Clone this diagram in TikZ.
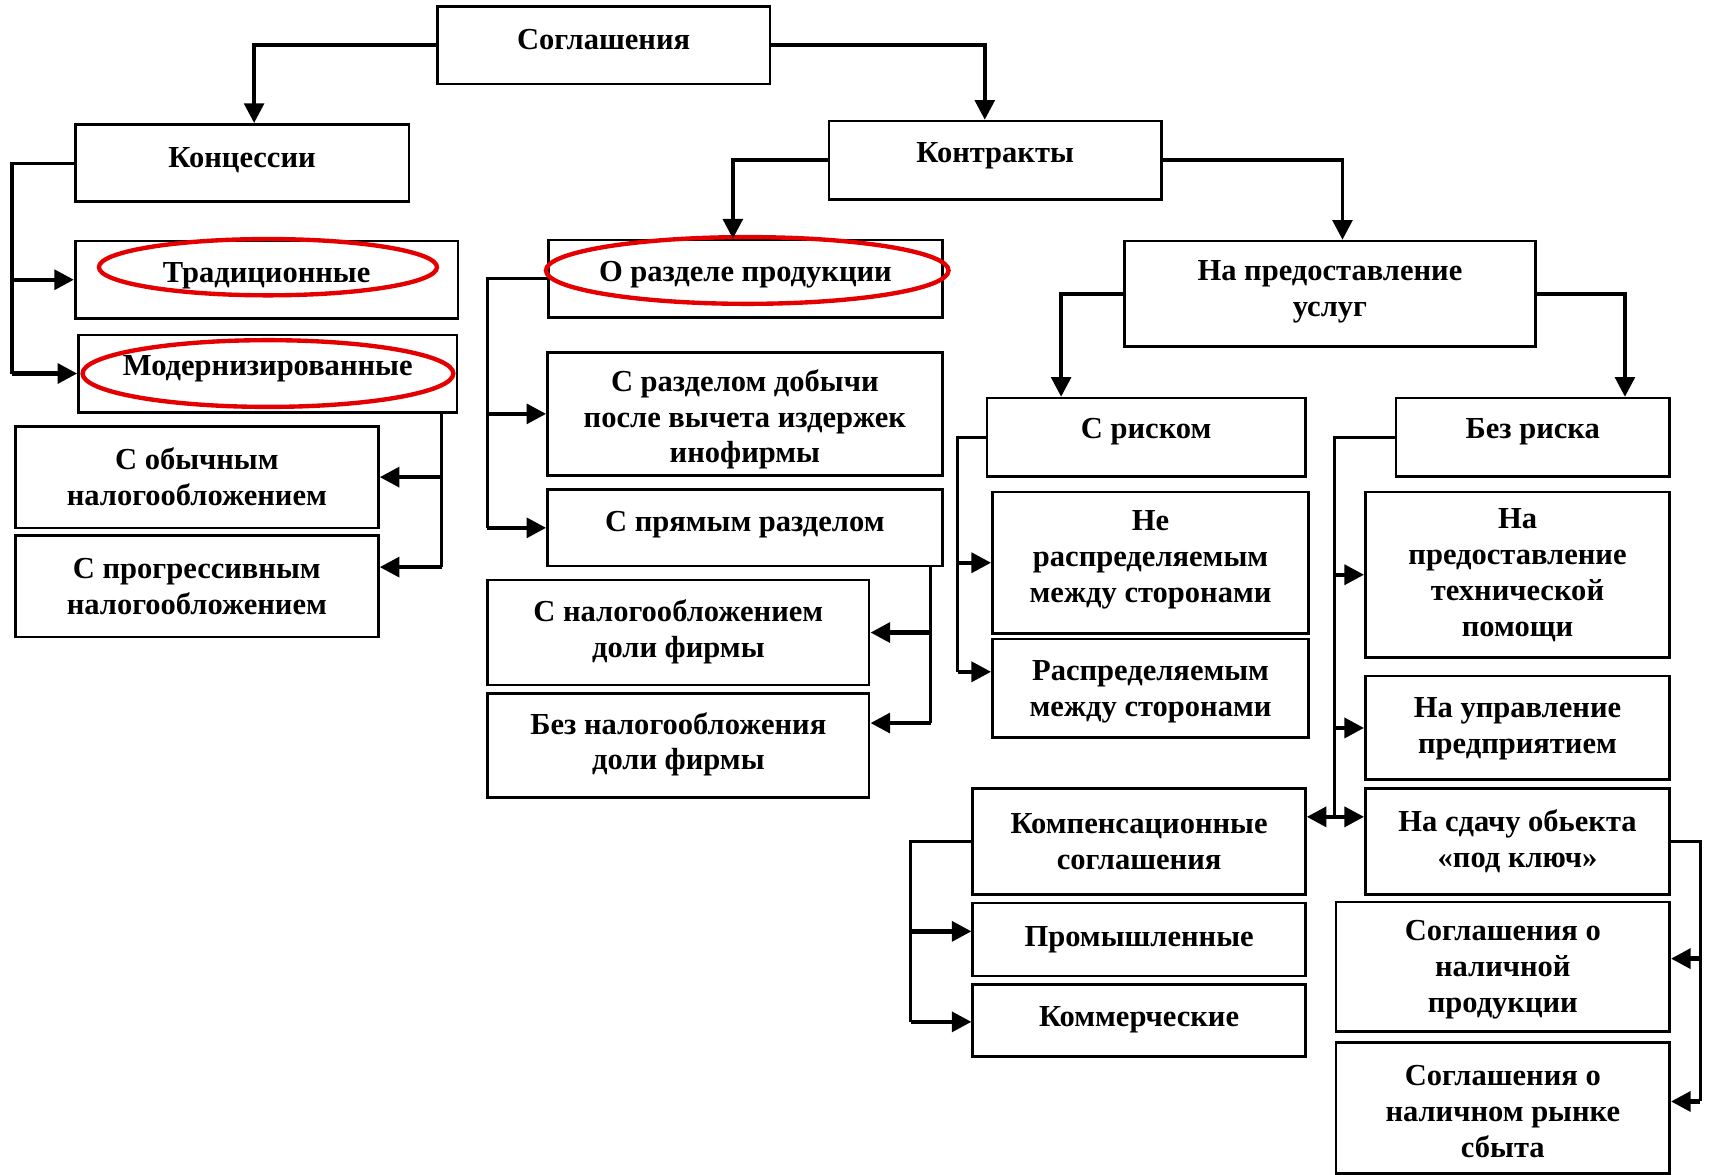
\documentclass[tikz,border=0pt]{standalone}
\usepackage{fontspec}
\setmainfont{Liberation Serif}
\usetikzlibrary{fit,arrows.meta}
\definecolor{hlred}{RGB}{228,0,0}
\tikzset{
  boxst/.style={draw=black, fill=white, line width=1.2pt, inner sep=0pt, rectangle},
  txt/.style={align=center, inner sep=0pt, font=\bfseries\fontsize{14pt}{16.5pt}\selectfont},
  ln/.style={draw=black, line width=1.4pt},
  varr/.style={draw=black, line width=1.7pt, -{Triangle[length=9pt,width=9pt]}},
  harr/.style={draw=black, line width=2pt, -{Triangle[length=9pt,width=9pt]}},
  hl/.style={draw=hlred, line width=2pt}
}
\newcommand\mybox[7]{%
  \node[boxst, fit={(#2,#3) (#4,#5)}] (#1) {};
  \node[txt, yshift=#6*0.5pt] (#1t) at (#1.center) {#7};
}
\begin{document}
\begin{tikzpicture}[x=0.5pt,y=-0.5pt]
\fill[white] (0,0) rectangle (1568,1077);
\useasboundingbox (0,0) rectangle (1568,1077);

\mybox{b1}{401}{6}{706}{77}{5}{Соглашения}
\mybox{b2}{69}{114}{375}{185}{3}{Концессии}
\mybox{b3}{760}{111}{1065}{183}{4}{Контракты}
\mybox{b4}{69}{221}{420}{292}{4}{Традиционные}
\mybox{b5}{72}{307}{419}{378}{4}{Модернизированные}
\mybox{b6}{14}{391}{347}{484}{0}{С обычным\\налогообложением}
\mybox{b7}{14}{491}{347}{584}{0}{С прогрессивным\\налогообложением}
\mybox{b8}{503}{220}{864}{291}{4}{О разделе продукции}
\mybox{b9}{502}{323}{864}{436}{-5}{С разделом добычи\\после вычета издержек\\инофирмы}
\mybox{b10}{502}{449}{864}{519}{3}{С прямым разделом}
\mybox{b11}{447}{532}{797}{628}{1}{С налогообложением\\доли фирмы}
\mybox{b12}{447}{636}{797}{731}{1}{Без налогообложения\\доли фирмы}
\mybox{b13}{1031}{221}{1408}{318}{2}{На предоставление\\услуг}
\mybox{b14}{905}{365}{1197}{437}{5}{С риском}
\mybox{b15}{1280}{365}{1531}{437}{5}{Без риска}
\mybox{b16}{910}{451}{1200}{581}{3}{Не\\распределяемым\\между сторонами}
\mybox{b17}{910}{586}{1200}{676}{-3}{Распределяемым\\между сторонами}
\mybox{b18}{1252}{451}{1531}{603}{0}{На\\предоставление\\технической\\помощи}
\mybox{b19}{1252}{620}{1531}{715}{-1}{На управление\\предприятием}
\mybox{b20}{892}{723}{1197}{820}{0}{Компенсационные\\соглашения}
\mybox{b21}{1252}{723}{1531}{820}{0}{На сдачу обьекта\\«под ключ»}
\mybox{b22}{892}{828}{1197}{895}{0}{Промышленные}
\mybox{b23}{892}{903}{1197}{969}{1}{Коммерческие}
\mybox{b24}{1225}{827}{1531}{946}{-3}{Соглашения о\\наличной\\продукции}
\mybox{b25}{1225}{956}{1531}{1076}{-3}{Соглашения о\\наличном рынке\\сбыта}

% highlight ellipses
\draw[hl] (245.7,245) ellipse [x radius=77.5pt, y radius=12.9pt];
\draw[hl] (245.7,342.5) ellipse [x radius=85pt, y radius=15.3pt];
\draw[hl] (685.2,248) ellipse [x radius=92.3pt, y radius=15.3pt];

% top level
\coordinate (k1) at (233,41.5);
\coordinate (k2) at (903,41.5);
\draw[varr] (b1.west) -- (k1) -- (k1 |- b2.north);
\draw[varr] (b1.east) -- (k2) -- (k2 |- b3.north);
\coordinate (k3) at (672,147);
\coordinate (k4) at (1231,147);
\draw[varr] (b3.west) -- (k3) -- (k3 |- b8.north);
\draw[varr] (b3.east) -- (k4) -- (k4 |- b13.north);
\coordinate (k5) at (973,269.5);
\coordinate (k6) at (1490,269.5);
\draw[varr] (b13.west) -- (k5) -- (k5 |- b14.north);
\draw[varr] (b13.east) -- (k6) -- (k6 |- b15.north);

% Концессии
\coordinate (k7) at (11,149.5);
\draw[ln] (b2.west) -- (k7) -- (k7 |- b5.west);
\draw[harr] (k7 |- b4.west) -- (b4.west);
\draw[harr] (k7 |- b5.west) -- (b5.west);

% Модернизированные -> налогообложение
\coordinate (k8) at (405,378);
\coordinate (k9) at (405,520);
\draw[ln] (k8) -- (k9);
\draw[harr] (k8 |- b6.east) -- (b6.east);
\draw[harr] (k9) -- (k9 -| b7.east);

% О разделе продукции
\coordinate (k10) at (447,255.5);
\draw[ln] (b8.west) -- (k10) -- (k10 |- b10.west);
\draw[harr] (k10 |- b9.west) -- (b9.west);
\draw[harr] (k10 |- b10.west) -- (b10.west);

% С прямым разделом
\coordinate (k11) at (853.5,519);
\coordinate (k12) at (853.5,663);
\draw[ln] (k11) -- (k12);
\draw[harr] (k11 |- b11.east) -- (b11.east);
\draw[harr] (k12) -- (k12 -| b12.east);

% С риском
\coordinate (k13) at (878,401);
\coordinate (k14) at (878,616);
\draw[ln] (b14.west) -- (k13) -- (k14);
\draw[harr] (k13 |- b16.west) -- (b16.west);
\draw[harr] (k14) -- (k14 -| b17.west);

% Без риска
\coordinate (k15) at (1224,401);
\coordinate (k16) at (1224,749);
\draw[ln] (b15.west) -- (k15) -- (k16);
\draw[harr] (k15 |- b18.west) -- (b18.west);
\draw[harr] (k15 |- b19.west) -- (b19.west);
\draw[harr] (k16) -- (k16 -| b20.east);
\draw[harr] (k16) -- (k16 -| b21.west);

% На сдачу объекта
\coordinate (k17) at (1559,771.5);
\coordinate (k18) at (1559,1010);
\coordinate (k19) at (1559,879);
\draw[ln] (b21.east) -- (k17) -- (k18);
\draw[harr] (k19) -- (k19 -| b24.east);
\draw[harr] (k18) -- (k18 -| b25.east);

% Компенсационные
\coordinate (k20) at (835,771.5);
\coordinate (k21) at (835,937);
\coordinate (k22) at (835,854);
\draw[ln] (b20.west) -- (k20) -- (k21);
\draw[harr] (k22) -- (k22 -| b22.west);
\draw[harr] (k21) -- (k21 -| b23.west);
\end{tikzpicture}
\end{document}
